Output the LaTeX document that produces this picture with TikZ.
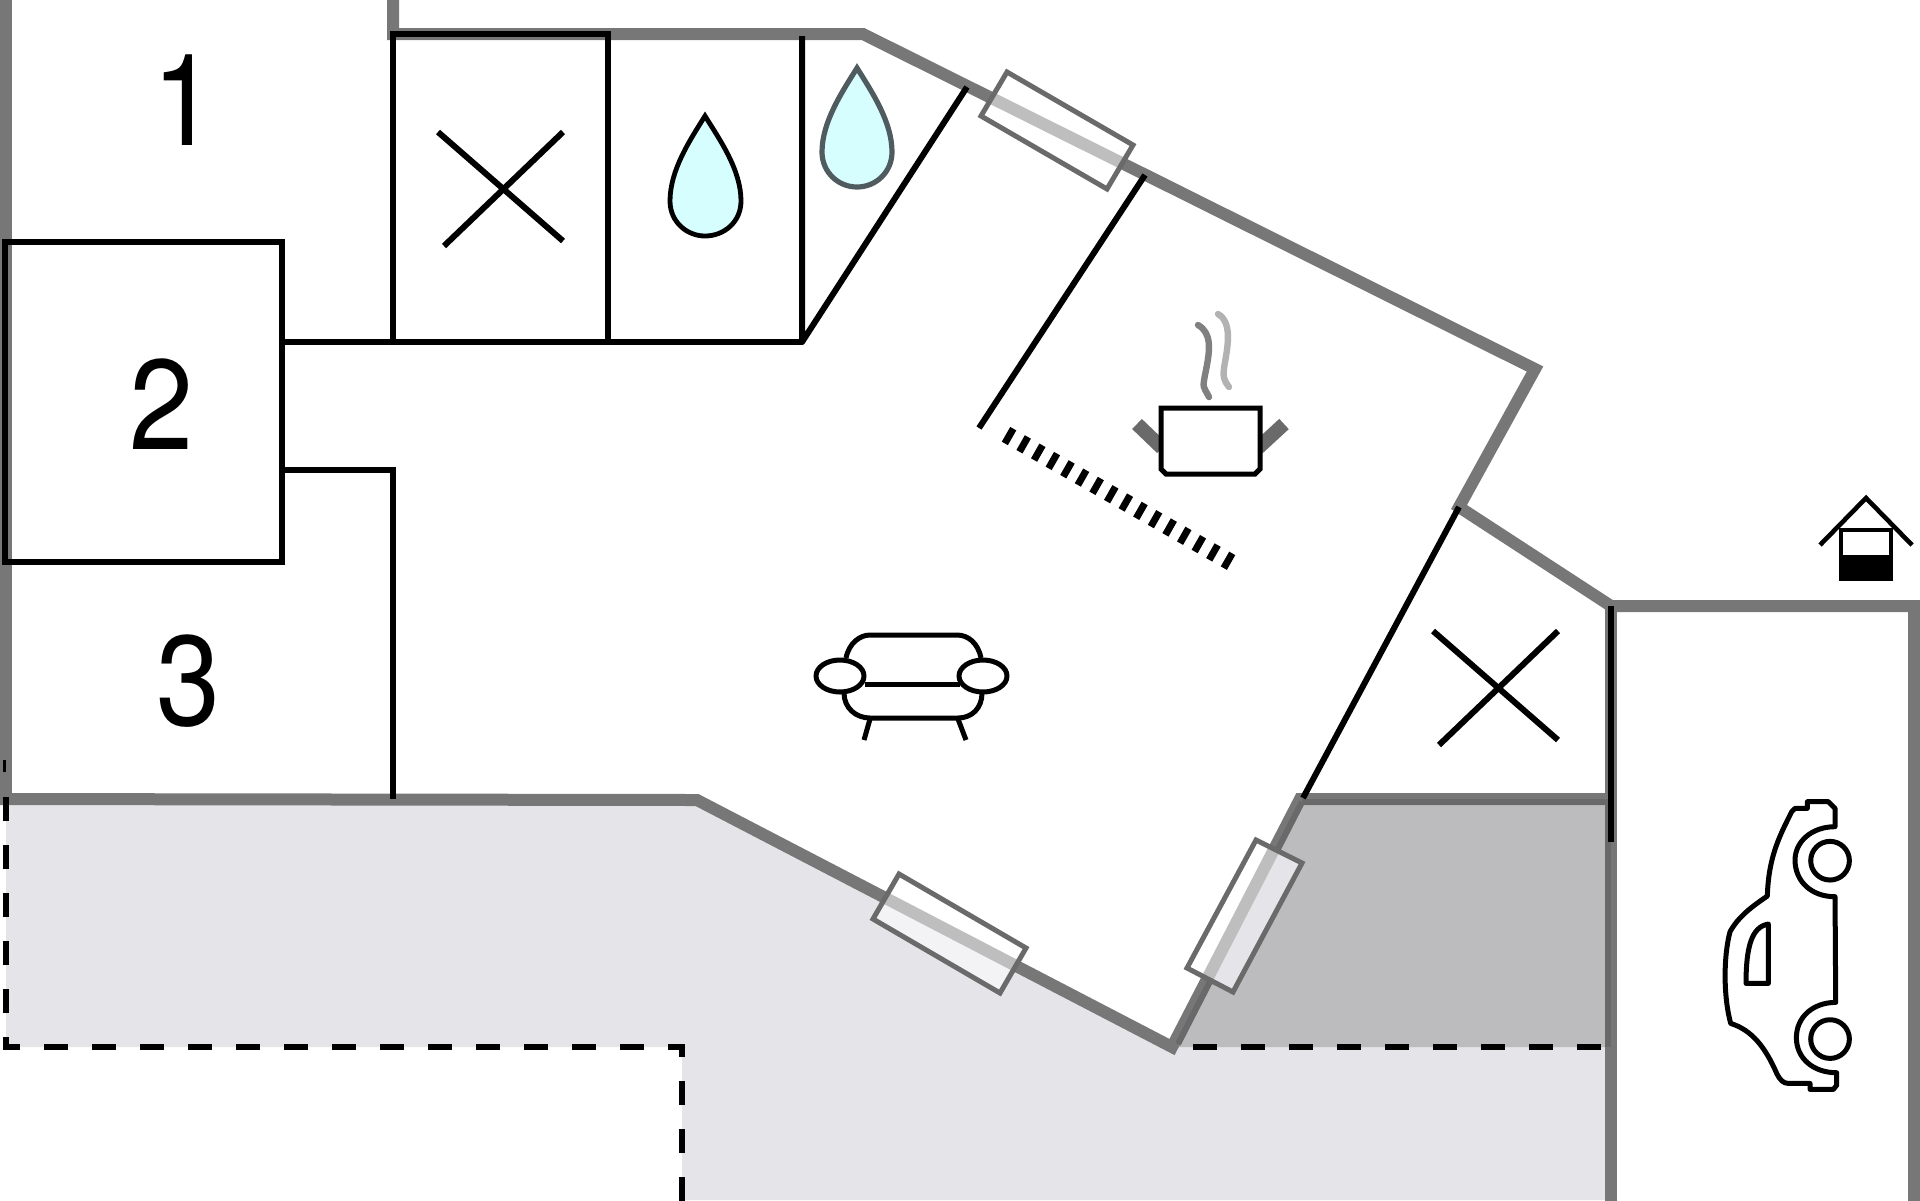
\documentclass[tikz,border=0pt]{standalone}
\usepackage{fontspec}
\setmainfont{TeX Gyre Heros}
\definecolor{wallgray}{HTML}{777777}
\definecolor{walldark}{HTML}{696969}
\definecolor{framegray}{HTML}{6A6A6A}
\definecolor{bandgray}{HTML}{BEBEBE}
\definecolor{terrace}{HTML}{E5E5E9}
\definecolor{covered}{HTML}{BCBCBE}
\definecolor{waterblue}{HTML}{D6FEFF}
\definecolor{dropedge}{HTML}{4F5B5F}
\definecolor{paneshade}{HTML}{F3F3F6}
\tikzset{
  wall/.style={draw=wallgray,line width=6pt,miter limit=10},
  wallshade/.style={draw=walldark,line width=3pt},
  inner/.style={draw=black,line width=3pt,line cap=butt},
  bounddash/.style={draw=black,line width=2.9pt,dash pattern=on 12pt off 12pt},
  icon/.style={draw=black,line width=2.5pt,line join=round},
  winframe/.style={draw=framegray,line width=2.5pt},
  numlabel/.style={inner sep=0pt,font=\fontsize{64}{70}\selectfont},
}
\begin{document}
\begin{tikzpicture}[x=0.5pt,y=-0.5pt]
\useasboundingbox (0,0) rectangle (1920,1200);
\clip (0,0) rectangle (1920,1200);
% ground areas
\fill[terrace] (6,799) -- (697,799) -- (1172,1047) -- (1611,1047) -- (1611,1200) -- (682,1200) -- (682,1047) -- (6,1047) -- cycle;
\fill[covered] (1299,799) -- (1611,799) -- (1611,1047) -- (1172,1047) -- cycle;
% walls
\draw[wall] (393,-10) -- (393,34) -- (863,34) -- (1535,369) -- (1459,507) -- (1611,606) -- (1914,606) -- (1914,1210);
\draw[wall] (1611,606) -- (1611,1210);
\draw[wall] (6,-10) -- (6,805);
\draw[wall] (-10,799) -- (697,800) -- (1172,1047) -- (1300,799) -- (1611,799);
% wall overlap with the covered area
\draw[wallshade] (1302,802) -- (1608,802);
\draw[wallshade] (1608,802) -- (1608,1047);
\draw[wallshade] (1302,802) -- (1178,1044);
% windows
\begin{scope}
  \clip (1007,72) -- (1133,145) -- (1107,189) -- (981,116) -- cycle;
  \fill[white] (900,0) rectangle (1200,250);
  \draw[draw=bandgray,line width=6pt] (863,34) -- (1535,369);
\end{scope}
\draw[winframe] (1007,72) -- (1133,145) -- (1107,189) -- (981,116) -- cycle;
\begin{scope}
  \clip (899,874) -- (1026,948) -- (1000,993) -- (873,919) -- cycle;
  \fill[white] (850,850) rectangle (1050,1010);
  \fill[paneshade] (850,880) -- (1050,983) -- (1050,1010) -- (850,1010) -- cycle;
  \draw[draw=bandgray,line width=6pt] (697,800) -- (1172,1047);
\end{scope}
\draw[winframe] (899,874) -- (1026,948) -- (1000,993) -- (873,919) -- cycle;
\begin{scope}
  \clip (1256,840) -- (1302,863) -- (1233,992) -- (1187,968) -- cycle;
  \fill[white] (1150,820) rectangle (1320,1010);
  \fill[terrace] (1300,799) -- (1172,1047) -- (1320,1047) -- (1320,799) -- cycle;
  \draw[draw=bandgray,line width=6pt] (1172,1047) -- (1300,799);
\end{scope}
\draw[winframe] (1256,840) -- (1302,863) -- (1233,992) -- (1187,968) -- cycle;
% boundary dashes
\draw[bounddash] (6,797) -- (6,1047) -- (682,1047) -- (682,1205);
\draw[bounddash] (1193,1047) -- (1602,1047);
\draw[draw=black,line width=1.5pt] (4,760) -- (4,772);
% interior walls
\draw[inner] (393,34) rectangle (608,342);
\draw[inner,line join=round] (802,36) -- (802,342) -- (967,87);
\draw[inner] (283,342) -- (802,342);
\draw[inner] (1145,175) -- (979,428);
\draw[inner] (5,242) rectangle (282,562);
\draw[inner,line join=miter] (283,470) -- (393,470) -- (393,799);
\draw[inner] (1459,507) -- (1303,798);
\draw[inner] (1611,606) -- (1611,842);
% kitchen counter edge
\draw[draw=black,line width=8.5pt,dash pattern=on 3.5pt off 4.9pt] (1006,434.3) -- (1232,563);
% beds
\draw[inner] (438,132) -- (563,241);
\draw[inner] (563,132) -- (444,246);
\draw[inner] (1433,631) -- (1558,740);
\draw[inner] (1558,631) -- (1439,745);
% water drops
\draw[draw=black,line width=2.4pt,fill=waterblue] (705,116) .. controls (690,140) and (670,170) .. (670,201) .. controls (670,222) and (687,236) .. (705,236) .. controls (724,236) and (741,222) .. (741,201) .. controls (741,170) and (720,140) .. (705,116) -- cycle;
\draw[draw=dropedge,line width=2.6pt,fill=waterblue] (857,68) .. controls (842,92) and (822,122) .. (822,152) .. controls (822,172) and (838,187) .. (857,187) .. controls (876,187) and (892,172) .. (892,152) .. controls (892,122) and (872,92) .. (857,68) -- cycle;
% cooking pot
\draw[draw=framegray,line width=7pt] (1137,424) -- (1162,448);
\draw[draw=framegray,line width=7pt] (1284,424) -- (1258,448);
\draw[icon,fill=white,line join=miter] (1161,408) -- (1260,408) -- (1260,469) -- (1255,474) -- (1166,474) -- (1161,469) -- cycle;
\draw[draw=gray,line width=3.2pt,line cap=round] (1198,325) .. controls (1212,333) and (1210,350) .. (1206,370) .. controls (1202,390) and (1203,385) .. (1209,397);
\draw[draw=black!30,line width=3.2pt,line cap=round] (1218,314) .. controls (1232,322) and (1228,345) .. (1225,362) .. controls (1222,378) and (1224,380) .. (1229,387);
% sofa
\begin{scope}[icon]
  \draw (846,658) .. controls (849,643) and (860,635) .. (870,635) -- (957,635) .. controls (968,635) and (978,643) .. (981,658);
  \draw (865,684) -- (960,684);
  \draw (844,693) .. controls (844,708) and (856,718) .. (870,718) -- (958,718) .. controls (972,718) and (982,708) .. (982,693);
  \draw (840,676) ellipse [x radius=24, y radius=16];
  \draw (983,676) ellipse [x radius=24, y radius=16];
  \draw (870,719) -- (864,740);
  \draw (958,719) -- (966,740);
\end{scope}
% car
\begin{scope}[shift={(1680,770)},x=0.1667pt,y=-0.1667pt]
  \draw[icon] (465,170) -- (465,115) -- (445,95) -- (382,95) -- (382,115) -- (345,115) -- (335,125) .. controls (300,195) and (265,260) .. (262,378) .. controls (215,410) and (175,440) .. (150,485) .. controls (130,560) and (130,680) .. (152,760) .. controls (215,780) and (255,830) .. (290,910) .. controls (300,930) and (310,940) .. (325,940) -- (390,940) -- (390,958) -- (460,958) -- (470,945) -- (470,908) .. controls (400,908) and (349,865) .. (349,803) .. controls (349,740) and (400,697) .. (467,697) -- (465,380) .. controls (395,380) and (345,335) .. (345,270) .. controls (345,215) and (395,170) .. (465,170) -- cycle;
  \draw[icon] (450,272) circle [radius=58];
  \draw[icon] (450,807) circle [radius=58];
  \draw[icon] (265,462) .. controls (215,470) and (198,530) .. (198,640) -- (265,640) -- cycle;
\end{scope}
% house symbol
\draw[draw=black,line width=2.3pt] (1820,545) -- (1866,498) -- (1912,545);
\fill[black] (1839,528) rectangle (1893,581);
\fill[white] (1843,532) rectangle (1889,555);
% room numbers
\node[numlabel] (room1) at (185,100) {\scalebox{0.9}[1]{1}};
\node[numlabel] (room2) at (162,404) {\scalebox{0.9}[1]{2}};
\node[numlabel] (room3) at (189,681) {\scalebox{0.9}[1]{3}};
\end{tikzpicture}
\end{document}
